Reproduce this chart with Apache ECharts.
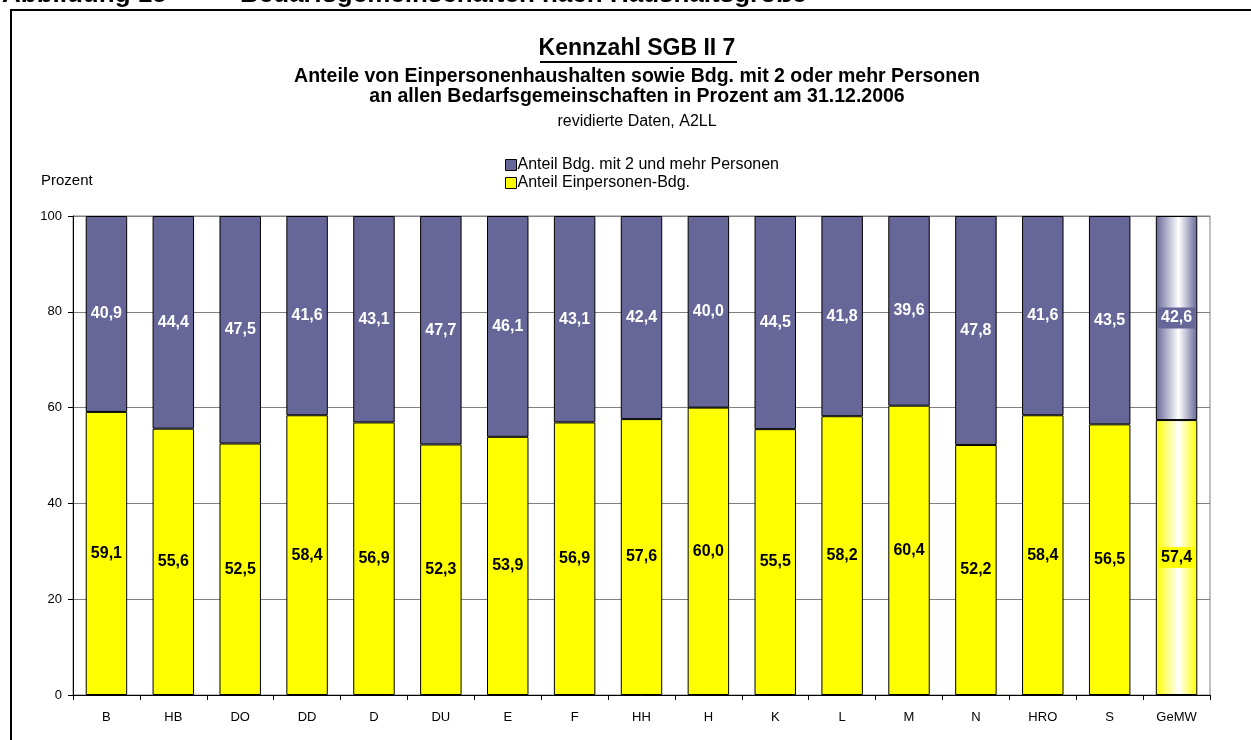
<!DOCTYPE html>
<html>
<head>
<meta charset="utf-8">
<script src="https://cdn.jsdelivr.net/npm/echarts@6/dist/echarts.min.js"></script>
<style>
html,body{margin:0;padding:0;background:#fff;}
#chart{width:1251px;height:740px;}
</style>
</head>
<body>
<div id="chart"></div>
<script>
const categories = ['B','HB','DO','DD','D','DU','E','F','HH','H','K','L','M','N','HRO','S','GeMW'];
const mehrPersonen = [40.9,44.4,47.5,41.6,43.1,47.7,46.1,43.1,42.4,40.0,44.5,41.8,39.6,47.8,41.6,43.5,42.6];
const einPersonen = [59.1,55.6,52.5,58.4,56.9,52.3,53.9,56.9,57.6,60.0,55.5,58.2,60.4,52.2,58.4,56.5,57.4];
const yTicks = [0,20,40,60,80,100];

const PURPLE = '#666699';
const YELLOW = '#ffff00';
const FONT = '"Liberation Sans", Arial, sans-serif';
const CX = 637;

function fmt(v){ return v.toFixed(1).replace('.', ','); }

function grad(c){
  return new echarts.graphic.LinearGradient(0,0,1,0,[
    {offset:0,color:c},{offset:0.55,color:'#ffffff'},{offset:1,color:c}
  ]);
}

function buildData(arr, color){
  return arr.map((v,i)=>{
    if (categories[i] === 'GeMW') {
      return {value:v, itemStyle:{color:grad(color)}, label:{backgroundColor:color, padding:[3,3,2,3]}};
    }
    return v;
  });
}

function ctext(t, y, font){
  return {type:'text', style:{text:t, x:CX, y:y, font:font, fill:'#000', align:'center', verticalAlign:'middle', textAlign:'center', textVerticalAlign:'middle'}};
}

const chart = echarts.init(document.getElementById('chart'), null, {renderer:'canvas'});
chart.setOption({
  animation:false,
  backgroundColor:'#ffffff',
  textStyle:{fontFamily:FONT},
  graphic:[
    {type:'rect', shape:{x:11,y:10,width:1300,height:800}, style:{fill:'none',stroke:'#000',lineWidth:2}, silent:true},
    {type:'text', style:{text:'Abbildung 15', x:2, y:8, font:'bold 26px '+FONT, fill:'#000', textVerticalAlign:'bottom', verticalAlign:'bottom'}},
    {type:'text', style:{text:'Bedarfsgemeinschaften nach Haushaltsgröße', x:240, y:8, font:'bold 26px '+FONT, fill:'#000', textVerticalAlign:'bottom', verticalAlign:'bottom'}},
    ctext('Kennzahl SGB II 7', 49, 'bold 23px '+FONT),
    {type:'line', shape:{x1:540,y1:62,x2:737,y2:62}, style:{stroke:'#000',lineWidth:2}},
    ctext('Anteile von Einpersonenhaushalten sowie Bdg. mit 2 oder mehr Personen', 77, 'bold 19.5px '+FONT),
    ctext('an allen Bedarfsgemeinschaften in Prozent am 31.12.2006', 97, 'bold 19.5px '+FONT),
    ctext('revidierte Daten, A2LL', 122, '16px '+FONT),
    {type:'text', style:{text:'Prozent', x:41, y:181, font:'15px '+FONT, fill:'#000', verticalAlign:'middle', textVerticalAlign:'middle'}}
  ],
  legend:{
    orient:'vertical', left:500, top:152, itemWidth:11, itemHeight:11, itemGap:2,
    icon:'rect',
    textStyle:{fontSize:16, lineHeight:16, color:'#000', fontFamily:FONT, padding:[0,0,0,-4]},
    data:[
      {name:'Anteil Bdg. mit 2 und mehr Personen', itemStyle:{color:PURPLE,borderColor:'#000',borderWidth:1}},
      {name:'Anteil Einpersonen-Bdg.', itemStyle:{color:YELLOW,borderColor:'#000',borderWidth:1}}
    ]
  },
  grid:{left:73, right:41, top:216, bottom:45, show:true, borderColor:'#808080', borderWidth:1},
  xAxis:{
    type:'category', data:categories,
    axisLine:{lineStyle:{color:'#000',width:1}},
    axisTick:{show:true, length:5, lineStyle:{color:'#000'}},
    axisLabel:{color:'#000', fontSize:13, fontFamily:FONT, margin:16}
  },
  yAxis:{
    type:'value', min:0, max:100, interval:20,
    axisLine:{show:true, lineStyle:{color:'#000',width:1}},
    axisTick:{show:true, length:5, lineStyle:{color:'#000'}},
    axisLabel:{color:'#000', fontSize:13, fontFamily:FONT, margin:11, formatter:v=>yTicks.includes(v)?String(v):''},
    splitLine:{show:true, lineStyle:{color:'#808080',width:1}}
  },
  series:[
    {
      name:'Anteil Einpersonen-Bdg.', type:'bar', stack:'s', barWidth:'62%',
      data:buildData(einPersonen, YELLOW),
      itemStyle:{color:YELLOW, borderColor:'#000', borderWidth:1},
      label:{show:true, position:'inside', color:'#000', fontWeight:'bold', fontSize:16, lineHeight:16, fontFamily:FONT, formatter:p=>fmt(p.value)}
    },
    {
      name:'Anteil Bdg. mit 2 und mehr Personen', type:'bar', stack:'s', barWidth:'62%',
      data:buildData(mehrPersonen, PURPLE),
      itemStyle:{color:PURPLE, borderColor:'#000', borderWidth:1},
      label:{show:true, position:'inside', color:'#fff', fontWeight:'bold', fontSize:16, lineHeight:16, fontFamily:FONT, formatter:p=>fmt(p.value)}
    }
  ]
});
</script>
</body>
</html>
